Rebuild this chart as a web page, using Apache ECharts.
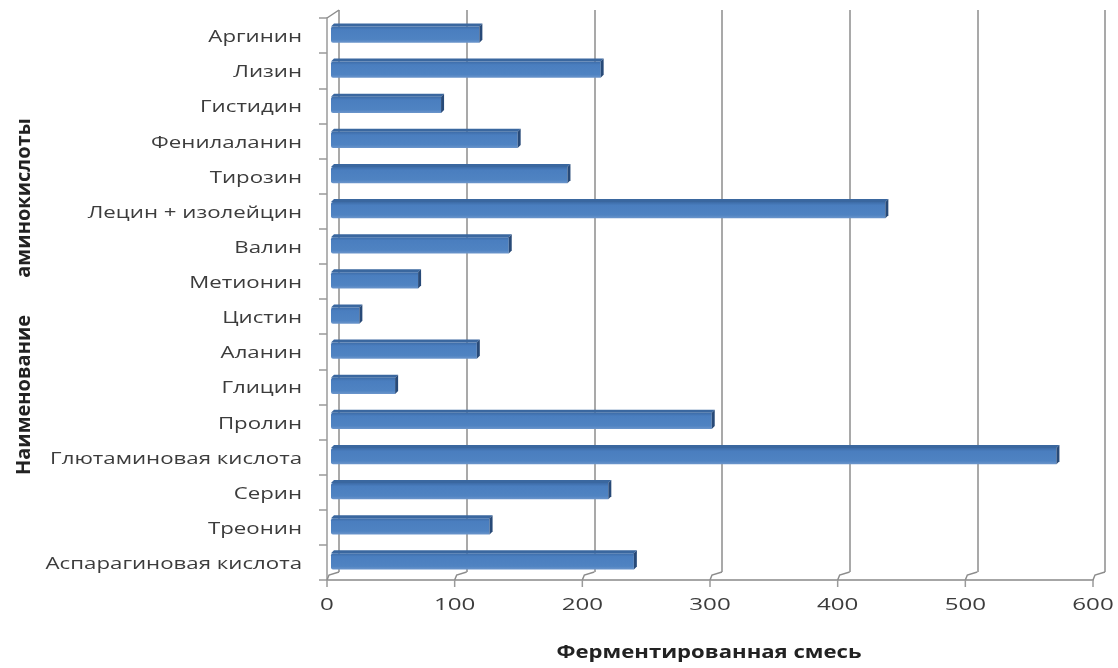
<!DOCTYPE html>
<html>
<head>
<meta charset="utf-8">
<script src="https://cdn.jsdelivr.net/npm/echarts@6/dist/echarts.min.js"></script>
<style>
  html, body { margin: 0; padding: 0; background: #fff; }
  #chart { width: 1118px; height: 668px; }
</style>
</head>
<body>
<div id="chart"></div>
<script>
// Amino acid content of the fermented mixture (bottom to top)
const aminoAcids = [
  'Аспарагиновая кислота', 'Треонин', 'Серин', 'Глютаминовая кислота',
  'Пролин', 'Глицин', 'Аланин', 'Цистин', 'Метионин', 'Валин',
  'Лецин + изолейцин', 'Тирозин', 'Фенилаланин', 'Гистидин', 'Лизин', 'Аргинин'
];
const fermentedMix = [238, 125, 218, 569, 299, 51, 115, 23, 69, 140, 435, 186, 147, 87, 212, 117];
const valueTicks = [0, 100, 200, 300, 400, 500, 600];

const xTitle = 'Ферментированная смесь';
const yTitle = 'аминокислоты';
const yTitle2 = 'Наименование';

const FONT = '"Open Sans", "DejaVu Sans", sans-serif';
const DEPTH_X = 12, DEPTH_Y = 8; // back wall offset of the pseudo-3D box

const chart = echarts.init(document.getElementById('chart'), null, { renderer: 'canvas' });

// Bar drawn as a slab: front face, thin top face and dark end cap
function renderBar(params, api) {
  const idx = api.value(0);
  const val = api.value(1);
  const band = api.size([0, 1])[1];
  const h = band * 0.46;
  const p0 = api.coord([0, idx]);
  const p1 = api.coord([val, idx]);
  const x0 = p0[0] + 4;
  const x1 = p1[0] + 3;
  const y0 = p0[1] - 3 - h / 2 + 2;
  const d = 3;
  return {
    type: 'group',
    children: [
      { type: 'polygon',
        shape: { points: [[x0, y0], [x1, y0], [x1 + d, y0 - d], [x0 + d, y0 - d]] },
        style: { fill: '#3a679f' } },
      { type: 'rect',
        shape: { x: x0, y: y0, width: x1 - x0, height: h, r: [2, 0, 0, 2] },
        style: {
          fill: new echarts.graphic.LinearGradient(0, 0, 0, 1, [
            { offset: 0, color: '#3d6ca8' },
            { offset: 0.2, color: '#4a7ebf' },
            { offset: 0.8, color: '#4f83c2' },
            { offset: 1, color: '#6b95cb' }
          ])
        } },
      { type: 'polygon',
        shape: { points: [[x1, y0], [x1 + d, y0 - d], [x1 + d, y0 - d + h], [x1, y0 + h]] },
        style: { fill: '#284a78' } }
    ]
  };
}

// Category labels left of the axis
function renderCatLabel(params, api) {
  const idx = api.value(0);
  const cs = params.coordSys;
  const p = api.coord([0, idx]);
  return {
    type: 'text',
    x: cs.x - 25,
    y: p[1] + 2,
    scaleX: 1.39,
    style: {
      text: aminoAcids[idx], x: 0, y: 0,
      align: 'right', verticalAlign: 'middle',
      font: '16px ' + FONT, fill: '#3c3c3c'
    }
  };
}

// Value tick labels, floor ticks and slanted floor connectors
function renderValueTick(params, api) {
  const v = api.value(0);
  const cs = params.coordSys;
  const x = api.coord([v, 0])[0];
  const bottom = cs.y + cs.height;
  const children = [
    { type: 'polyline',
      shape: { points: [[x, bottom], [x + 2, bottom - 5], [x + DEPTH_X, bottom - DEPTH_Y]] },
      style: { stroke: '#8c8c8c', lineWidth: 1.5, fill: null } },
    { type: 'line', shape: { x1: x, y1: bottom, x2: x, y2: bottom + 7 },
      style: { stroke: '#9a9a9a', lineWidth: 1.5 } },
    { type: 'text', x: x, y: bottom + 25, scaleX: 1.42,
      style: { text: String(v), x: 0, y: 0, align: 'center', verticalAlign: 'middle',
               font: '17px ' + FONT, fill: '#3c3c3c' } }
  ];
  if (v === 0) {
    children.push({ type: 'line',
      shape: { x1: x, y1: cs.y, x2: x + DEPTH_X, y2: cs.y - DEPTH_Y },
      style: { stroke: '#8c8c8c', lineWidth: 1.5 } });
  }
  return { type: 'group', children };
}

const option = {
  animation: false,
  backgroundColor: '#ffffff',
  grid: [
    { left: 327, top: 18, width: 766, height: 562, containLabel: false },
    { left: 327 + DEPTH_X, top: 18 - DEPTH_Y, width: 766, height: 562, containLabel: false }
  ],
  xAxis: [
    { gridIndex: 0, type: 'value', min: 0, max: 600, interval: 100,
      axisLine: { show: true, lineStyle: { color: '#a6a6a6', width: 2 } },
      axisTick: { show: false }, axisLabel: { show: false }, splitLine: { show: false } },
    { gridIndex: 1, type: 'value', min: 0, max: 600, interval: 100,
      axisLine: { show: false }, axisTick: { show: false }, axisLabel: { show: false },
      splitLine: { show: true, lineStyle: { color: '#8c8c8c', width: 1.5 } } }
  ],
  yAxis: [
    { gridIndex: 0, type: 'category', data: aminoAcids, boundaryGap: true,
      axisLine: { show: true, lineStyle: { color: '#9a9a9a', width: 1.5 } },
      axisTick: { show: true, inside: false, length: 8, lineStyle: { color: '#9a9a9a', width: 1.5 } },
      axisLabel: { show: false } },
    { gridIndex: 1, type: 'category', data: aminoAcids, show: false }
  ],
  series: [
    { type: 'custom', xAxisIndex: 0, yAxisIndex: 0, renderItem: renderValueTick,
      data: valueTicks.map(v => [v, 0]), encode: { x: 0, y: 1 }, silent: true, z: 1 },
    { type: 'custom', xAxisIndex: 0, yAxisIndex: 0, renderItem: renderBar,
      data: fermentedMix.map((v, i) => [i, v]), encode: { x: 1, y: 0 }, z: 3 },
    { type: 'custom', xAxisIndex: 0, yAxisIndex: 0, renderItem: renderCatLabel,
      data: aminoAcids.map((_, i) => [i, 0]), encode: { y: 0, x: 1 }, silent: true, z: 3 }
  ],
  graphic: [
    { type: 'text', x: 709, y: 653, scaleX: 1.3,
      style: { text: xTitle, x: 0, y: 0, align: 'center', verticalAlign: 'middle',
               font: 'bold 17px ' + FONT, fill: '#222' } },
    { type: 'text', x: 24, y: 198, rotation: Math.PI / 2,
      style: { text: yTitle, x: 0, y: 0, align: 'center', verticalAlign: 'middle',
               font: 'bold 20px ' + FONT, fill: '#222' } },
    { type: 'text', x: 24, y: 395, rotation: Math.PI / 2,
      style: { text: yTitle2, x: 0, y: 0, align: 'center', verticalAlign: 'middle',
               font: 'bold 20px ' + FONT, fill: '#222' } }
  ]
};

chart.setOption(option);
</script>
</body>
</html>
